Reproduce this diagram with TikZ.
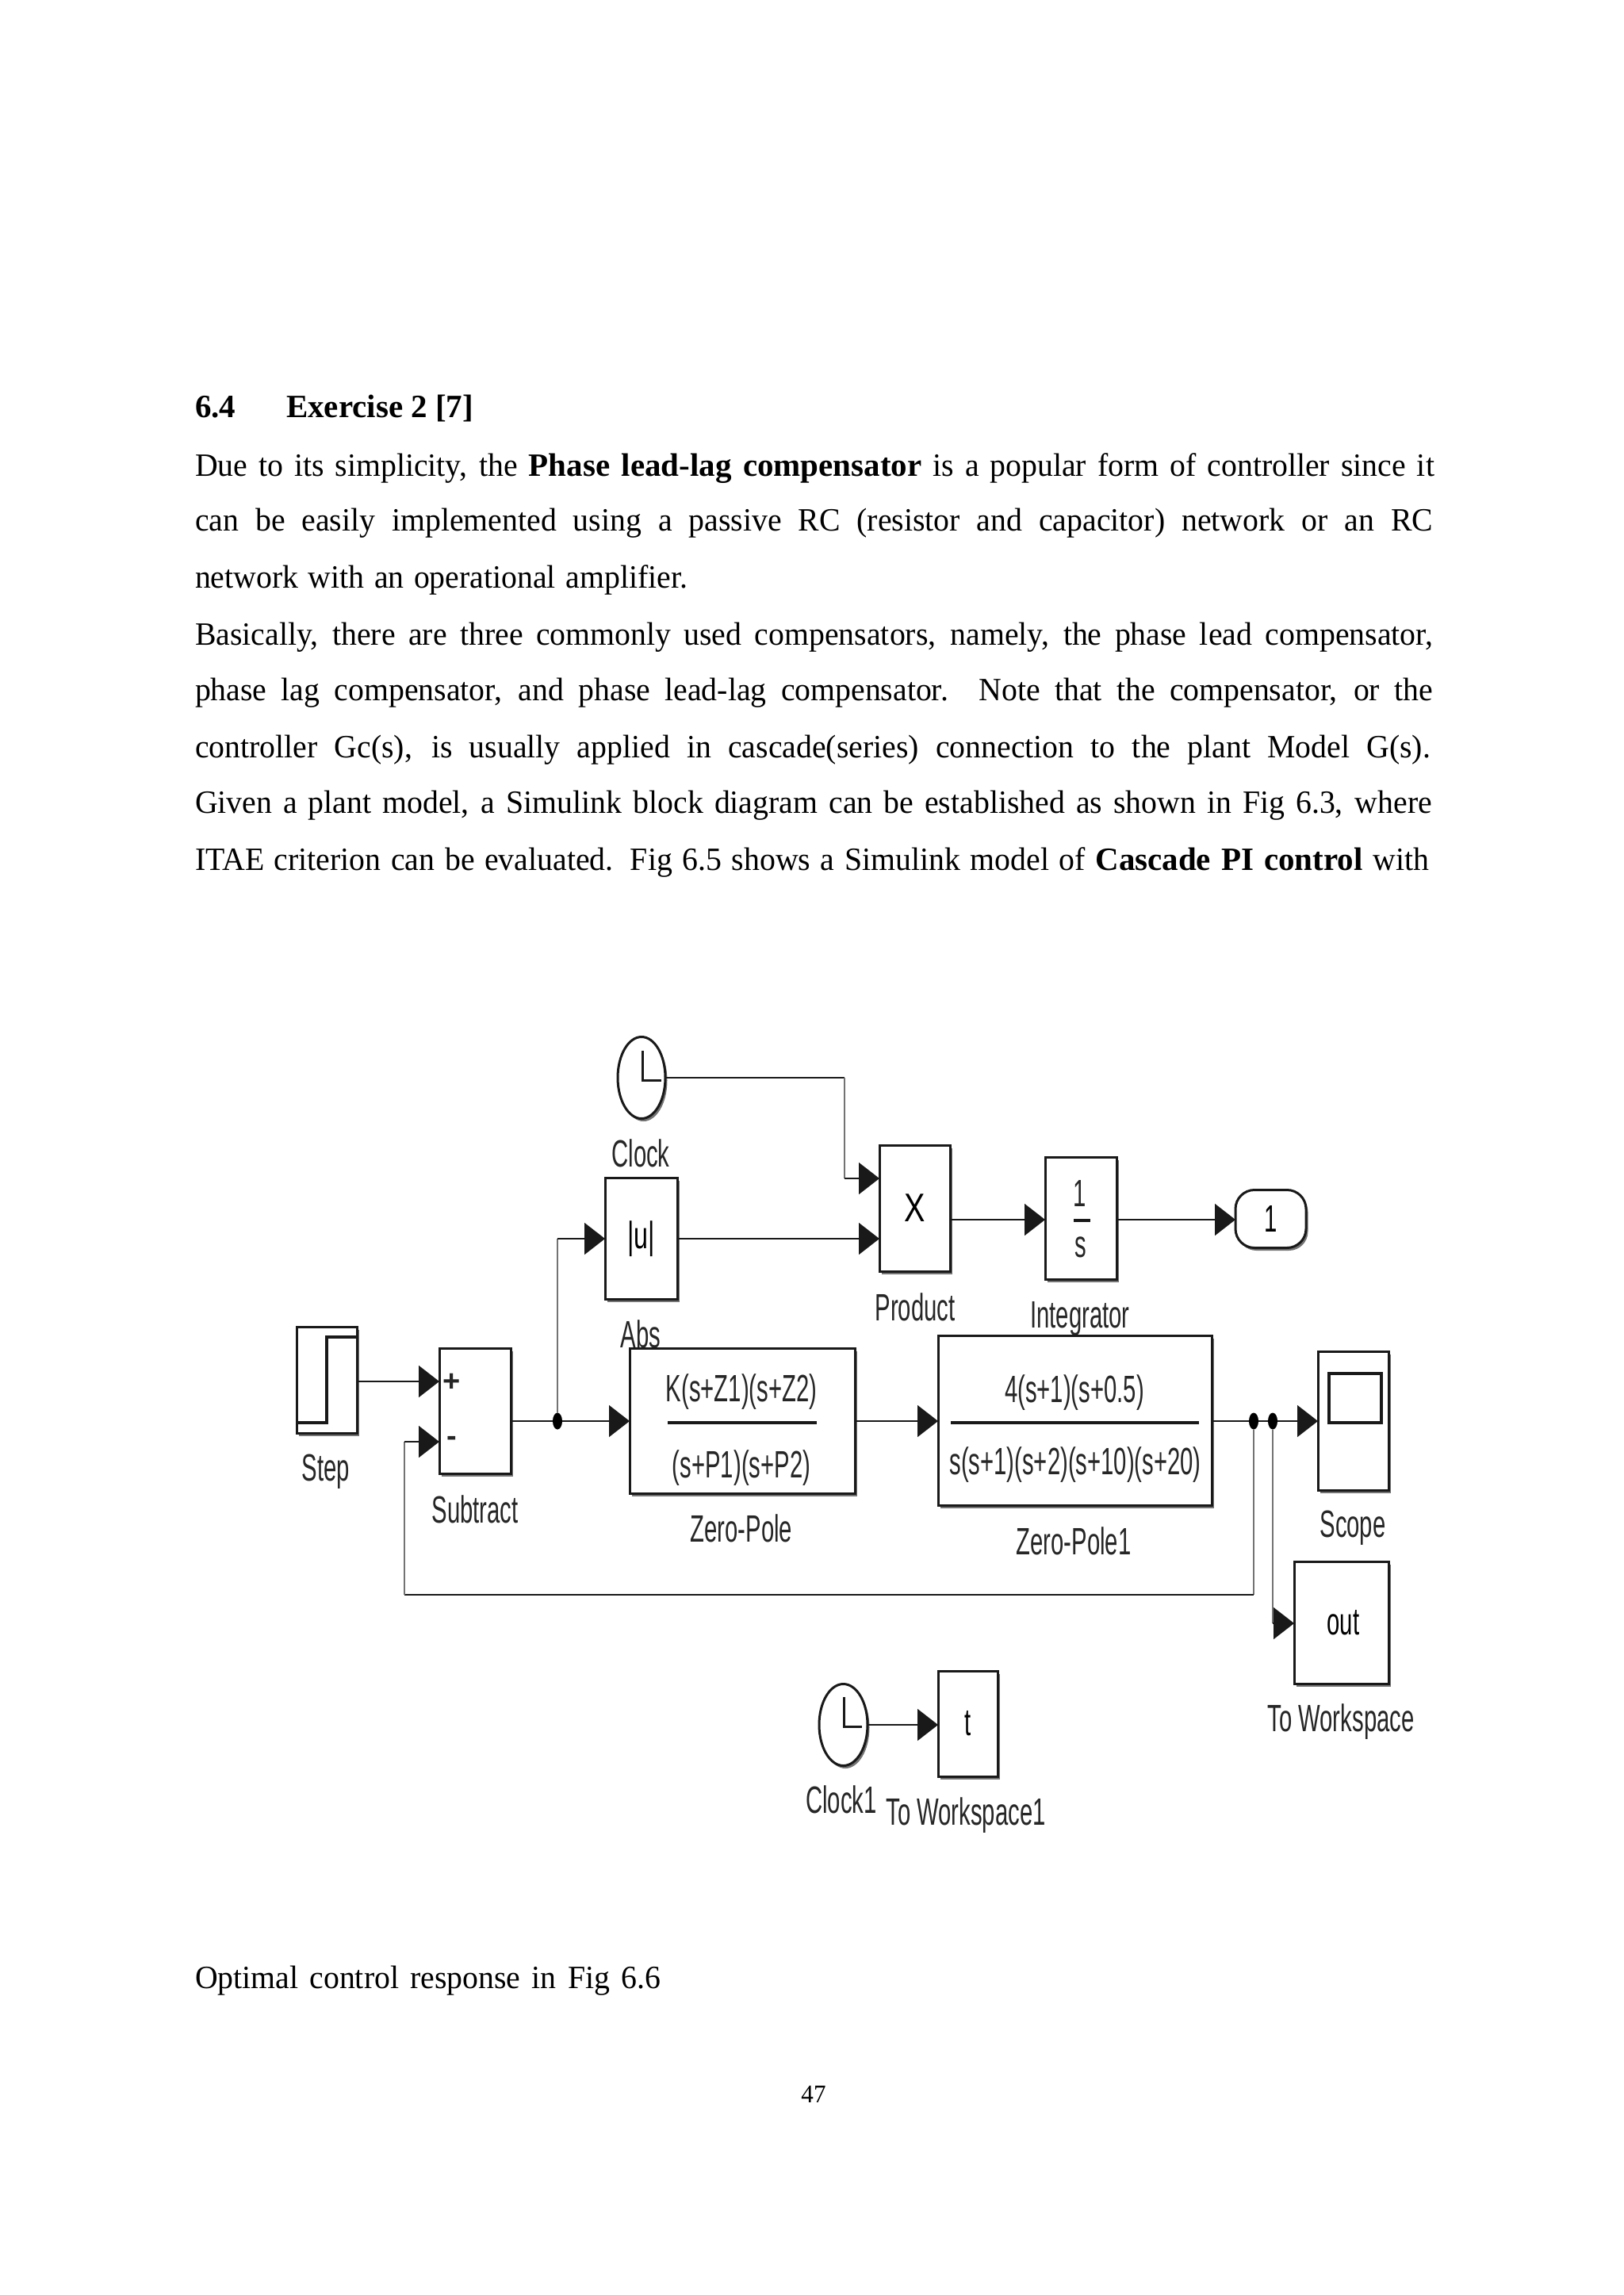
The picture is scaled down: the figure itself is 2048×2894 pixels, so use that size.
\documentclass[tikz,border=0pt]{standalone}
\usepackage{fontspec}
\setmainfont{Liberation Serif}[UprightFeatures={FakeStretch=0.97}]
\newfontfamily\arialfont{Liberation Sans}
\usetikzlibrary{arrows.meta,shapes.geometric,shadows}
\newcommand{\bodytext}{\fontsize{41}{41}\selectfont}
\newcommand{\lab}[1]{\scalebox{0.61}[1]{\arialfont\fontsize{48}{48}\selectfont #1}}
\newcommand{\bline}[5]{\node[bodyline] (#1) at (246,#2) {\makebox[#3pt][s]{#4}};}
\tikzset{
  bodyline/.style={anchor=base west,inner sep=0pt,outer sep=0pt,font=\bodytext},
  diaglabel/.style={inner sep=0pt,outer sep=0pt,text=black!85},
  block/.style={draw=black!90,fill=white,line width=3pt,inner sep=0pt,outer sep=0pt,
    drop shadow={shadow xshift=2.5pt,shadow yshift=-3.5pt,opacity=.55,fill=black}},
  sig/.style={draw=black!90,line width=1.8pt,-{Triangle[length=26pt,width=40pt]}},
  wire/.style={draw=black!90,line width=1.8pt},
  vwire/.style={draw=black!55,line width=1.8pt},
  junction/.style={ellipse,fill=black,inner sep=0pt,outer sep=0pt,minimum width=12pt,minimum height=21pt},
  fracbar/.style={line width=3.6pt,draw=black!90},
}
\begin{document}
\begin{tikzpicture}[x=1pt,y=-1pt]
\useasboundingbox (0,0) rectangle (2048,2894);
\fill[white] (0,0) rectangle (2048,2894);
% page text
\node[bodyline] (secnum) at (246,526) {\textbf{6.4}};
\node[bodyline] (sectitle) at (361,526) {\textbf{Exercise 2 [7]}};
\bline{l1}{600}{1563}{Due to its simplicity, the \textbf{Phase lead-lag compensator} is a popular form of controller since it}{}
\bline{l2}{669}{1561}{can be easily implemented using a passive RC (resistor and capacitor) network or an RC}{}
\bline{l3}{741}{621}{network with an operational amplifier.}{}
\bline{l4}{813}{1561}{Basically, there are three commonly used compensators, namely, the phase lead compensator,}{}
\bline{l5}{883}{1561}{phase lag compensator, and phase lead-lag compensator. Note that the compensator, or the}{}
\bline{l6}{955}{1558}{controller Gc(s), is usually applied in cascade(series) connection to the plant Model G(s).}{}
\bline{l7}{1025}{1560}{Given a plant model, a Simulink block diagram can be established as shown in Fig 6.3, where}{}
\bline{l8}{1097}{1556}{ITAE criterion can be evaluated. Fig 6.5 shows a Simulink model of \textbf{Cascade PI control} with}{}
\bline{l9}{2507}{587}{Optimal control response in Fig 6.6}{}
\node[anchor=base,inner sep=0pt,font=\fontsize{32}{32}\selectfont] (pageno) at (1026,2651) {47};
% labels (under the blocks, which cover their lower parts)
\node[diaglabel] (lclock) at (808,1454) {\lab{Clock}};
\node[diaglabel] (labs) at (808,1682) {\lab{Abs}};
\node[diaglabel] (lprod) at (1154,1648) {\lab{Product}};
\node[diaglabel] (lint) at (1362,1663) {\lab{Integrator}};
\node[diaglabel] (lstep) at (411,1856) {\lab{Step}};
\node[diaglabel] (lsub) at (599,1903) {\lab{Subtract}};
\node[diaglabel] (lzp) at (935,1927) {\lab{Zero-Pole}};
\node[diaglabel] (lzp1) at (1354,1943) {\lab{Zero-Pole1}};
\node[diaglabel] (lscope) at (1706,1927) {\lab{Scope}};
\node[diaglabel] (ltw) at (1691,2171) {\lab{To Workspace}};
\node[diaglabel] (lclock1) at (1061,2269) {\lab{Clock1}};
\node[diaglabel] (ltw1) at (1218,2289) {\lab{To Workspace1}};
% blocks
\node[block,ellipse,minimum width=60pt,minimum height=103pt] (clock) at (809,1359) {};
\node[block,minimum width=91pt,minimum height=153pt] (abs) at (808.5,1562) {\scalebox{1.1}[1]{\lab{|u|}}};
\node[block,minimum width=89pt,minimum height=159pt] (product) at (1153.5,1523.5) {\scalebox{1.35}[1.05]{\lab{X}}};
\node[block,minimum width=90pt,minimum height=154pt] (integ) at (1363,1536) {};
\node[block,rounded corners=24pt,minimum width=89pt,minimum height=73pt] (outp) at (1602.5,1537) {\lab{1}};
\node[block,minimum width=76pt,minimum height=134pt] (stepb) at (412,1740) {};
\node[block,minimum width=90pt,minimum height=158pt] (subtr) at (599,1779) {};
\node[block,minimum width=284pt,minimum height=183pt] (zp) at (936,1791.5) {};
\node[block,minimum width=345pt,minimum height=214pt] (zp1) at (1355.5,1791) {};
\node[block,minimum width=89pt,minimum height=175pt] (scope) at (1706.5,1791.5) {};
\node[block,minimum width=119pt,minimum height=154pt] (towk) at (1691.5,2046) {\hspace*{5pt}\lab{out}};
\node[block,ellipse,minimum width=61pt,minimum height=103pt] (clock1) at (1063.5,2175) {};
\node[block,minimum width=75pt,minimum height=133pt] (towk1) at (1220.5,2173.5) {\lab{t}};
% block glyphs
\draw[line width=3pt,draw=black!90] (810,1325) |- (834,1362);
\draw[line width=3pt,draw=black!90] (1064,2140) |- (1087,2177);
\draw[line width=3.4pt,draw=black!90] (stepb.west |- 0,1794) -- (412,1794) -- (412,1686) -- (stepb.east |- 0,1686);
\node[draw=black!90,line width=3.4pt,inner sep=0pt,minimum width=66pt,minimum height=62pt] (scopescreen) at (1709,1763) {};
\node[diaglabel] (ione) at (1362,1505) {\lab{1}};
\node[diaglabel] (is) at (1363,1573) {\lab{s}};
\draw[line width=3.6pt,draw=black!90] (1354,1539) -- (1375,1539);
\node[diaglabel] (plus) at (570,1743) {\arialfont\bfseries\fontsize{38}{38}\selectfont +};
\node[diaglabel] (minus) at (570,1817) {\arialfont\bfseries\fontsize{38}{38}\selectfont -};
\node[diaglabel] (zpn) at (935,1755) {\lab{K(s+Z1)(s+Z2)}};
\node[diaglabel] (zpd) at (935,1851) {\lab{(s+P1)(s+P2)}};
\draw[fracbar] (842,1794) -- (1030,1794);
\node[diaglabel] (zp1n) at (1355,1756) {\lab{4(s+1)(s+0.5)}};
\node[diaglabel] (zp1d) at (1356,1847) {\lab{s(s+1)(s+2)(s+10)(s+20)}};
\draw[fracbar] (1199,1794) -- (1512,1794);
% connection points
\coordinate (pin1) at (product.west |- 0,1486);
\coordinate (pin2) at (product.west |- 0,1562);
\coordinate (corner1) at (1065,1359);
\coordinate (corner2) at (1065,1486);
\coordinate (sub1) at (subtr.west |- 0,1742);
\coordinate (sub2) at (subtr.west |- 0,1818);
\coordinate (fb1) at (510,2011);
\coordinate (fb2) at (510,1818);
\coordinate (fb3) at (1581,2011);
\coordinate (absup) at (703,1562);
\coordinate (twk) at (1605,2047);
\node[junction] (j1) at (703,1792) {};
\node[junction] (j2) at (1581,1792) {};
\node[junction] (j3) at (1605,1792) {};
% connectors
\draw[wire] (clock.east) -- (corner1);
\draw[vwire] (corner1) -- (corner2);
\draw[sig] (corner2) -- (pin1);
\draw[sig] (abs.east |- 0,1562) -- (pin2);
\draw[sig] (product.east |- 0,1538) -- (integ.west |- 0,1538);
\draw[sig] (integ.east |- 0,1538) -- (outp.west |- 0,1538);
\draw[sig] (stepb.east |- 0,1742) -- (sub1);
\draw[wire] (subtr.east |- j1) -- (j1);
\draw[sig] (j1) -- (zp.west |- j1);
\draw[vwire] (j1) -- (absup);
\draw[sig] (absup) -- (abs.west |- absup);
\draw[sig] (zp.east |- j1) -- (zp1.west |- j1);
\draw[wire] (zp1.east |- j2) -- (j2);
\draw[wire] (j2) -- (j3);
\draw[sig] (j3) -- (scope.west |- j3);
\draw[vwire] (j2) -- (fb3);
\draw[wire] (fb3) -- (fb1);
\draw[vwire] (fb1) -- (fb2);
\draw[sig] (fb2) -- (sub2);
\draw[vwire] (j3) -- (twk);
\draw[sig] (twk) -- (towk.west |- twk);
\draw[sig] (clock1.east) -- (towk1.west |- clock1.east);
\end{tikzpicture}
\end{document}
